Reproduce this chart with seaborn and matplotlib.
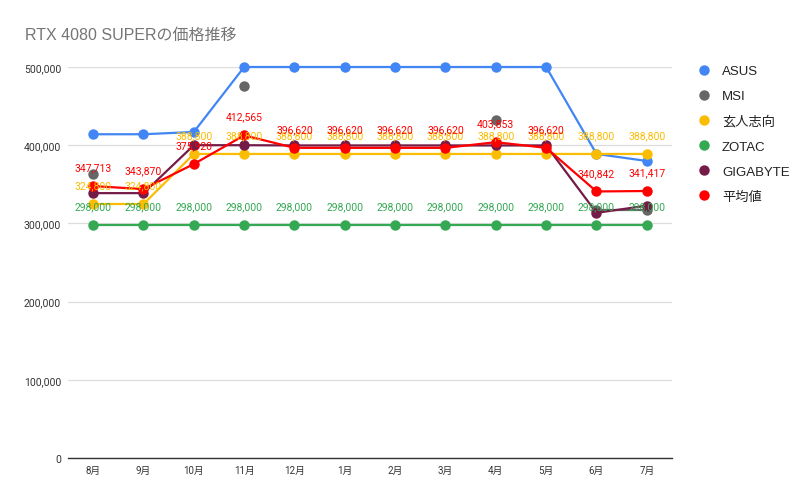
import numpy as np
import pandas as pd
import matplotlib.pyplot as plt
from matplotlib.lines import Line2D
import seaborn as sns

# Data (MSI has gaps: only some months are plotted)
months = ['8月', '9月', '10月', '11月', '12月', '1月', '2月', '3月', '4月', '5月', '6月', '7月']
asus = [414000, 414000, 416900, 500000, 500000, 500000, 500000, 500000, 500000, 500000, 388800, 379800]
msi = [363100, np.nan, np.nan, 476000, np.nan, np.nan, np.nan, np.nan, 432800, np.nan, 316600, 316600]
kurouto = [324800, 324800, 388800, 388800, 388800, 388800, 388800, 388800, 388800, 388800, 388800, 388800]
zotac = [298000, 298000, 298000, 298000, 298000, 298000, 298000, 298000, 298000, 298000, 298000, 298000]
gigabyte = [338700, 338700, 400000, 400000, 399700, 399700, 399700, 399700, 399700, 399700, 313500, 322700]
average = [347713, 343870, 375920, 412565, 396620, 396620, 396620, 396620, 403853, 396620, 340842, 341417]

series_names = ['ASUS', 'MSI', '玄人志向', 'ZOTAC', 'GIGABYTE', '平均値']
series_values = [asus, msi, kurouto, zotac, gigabyte, average]
colors = {'ASUS': '#4285F4', 'MSI': '#666666', '玄人志向': '#FBBC04',
          'ZOTAC': '#34A853', 'GIGABYTE': '#741B47', '平均値': '#FF0000'}
labelled = {'玄人志向': '#FBBC04', 'ZOTAC': '#34A853', '平均値': '#FF0000'}

sns.set_style('white')
UI_FONT = ['Liberation Sans', 'Noto Sans CJK JP', 'DejaVu Sans']
NUM_FONT = ['Roboto', 'Noto Sans CJK JP', 'DejaVu Sans']
plt.rcParams['font.family'] = NUM_FONT

fig = plt.figure(figsize=(8.12, 5.02), dpi=100)
ax = fig.add_axes([68 / 812, 1 - 459 / 502, 604 / 812, 391 / 502])

# one lineplot per series so missing months break the line
for name, vals in zip(series_names, series_values):
    s = pd.Series(vals, index=range(len(months)), dtype=float)
    seg_id = s.isna().cumsum()
    for _, seg in s.dropna().groupby(seg_id[s.notna()]):
        sns.lineplot(x=seg.index, y=seg.values, color=colors[name], marker='o',
                     markersize=7.5, markeredgewidth=0, linewidth=1.6,
                     ax=ax, clip_on=False)

# data labels
for name, col in labelled.items():
    vals = series_values[series_names.index(name)]
    for i, v in enumerate(vals):
        ax.annotate(f'{v:,}', (i, v), xytext=(0, 13.5), textcoords='offset points',
                    ha='center', va='center', fontsize=7.5, color=col, zorder=10)

ax.set_xlim(-0.5, 11.5)
ax.set_ylim(0, 500000)
ax.set_xticks(range(len(months)))
ax.set_xticklabels(months, fontsize=7, color='#333333')
yticks = [0, 100000, 200000, 300000, 400000, 500000]
ax.set_yticks(yticks)
ax.set_yticklabels([f'{t:,}' for t in yticks], fontsize=7.5, color='#333333')
ax.tick_params(axis='both', length=0, pad=5)
ax.set_xlabel('')
ax.set_ylabel('')
ax.grid(axis='y', color='#dddddd', linewidth=0.9)
ax.set_axisbelow(True)
for s in ['top', 'right', 'left']:
    ax.spines[s].set_visible(False)
ax.spines['bottom'].set_color('#333333')
ax.spines['bottom'].set_linewidth(1)

fig.text(25 / 812, 1 - 35 / 502, 'RTX 4080 SUPERの価格推移', fontsize=11.5,
         color='#757575', va='center', ha='left', family=UI_FONT)

handles = [Line2D([], [], linestyle='none', marker='o', markersize=7.5,
                  markerfacecolor=colors[n], markeredgewidth=0) for n in series_names]
leg = fig.legend(handles, series_names, loc='upper left',
                 bbox_to_anchor=(697 / 812, 1 - 66 / 502), frameon=False,
                 handlelength=1, handletextpad=0.9, labelspacing=0.97,
                 borderpad=0, borderaxespad=0,
                 prop={'family': UI_FONT, 'size': 9.5})
for t in leg.get_texts():
    t.set_color('#222222')

plt.savefig('out.png', dpi=100)
plt.close()
